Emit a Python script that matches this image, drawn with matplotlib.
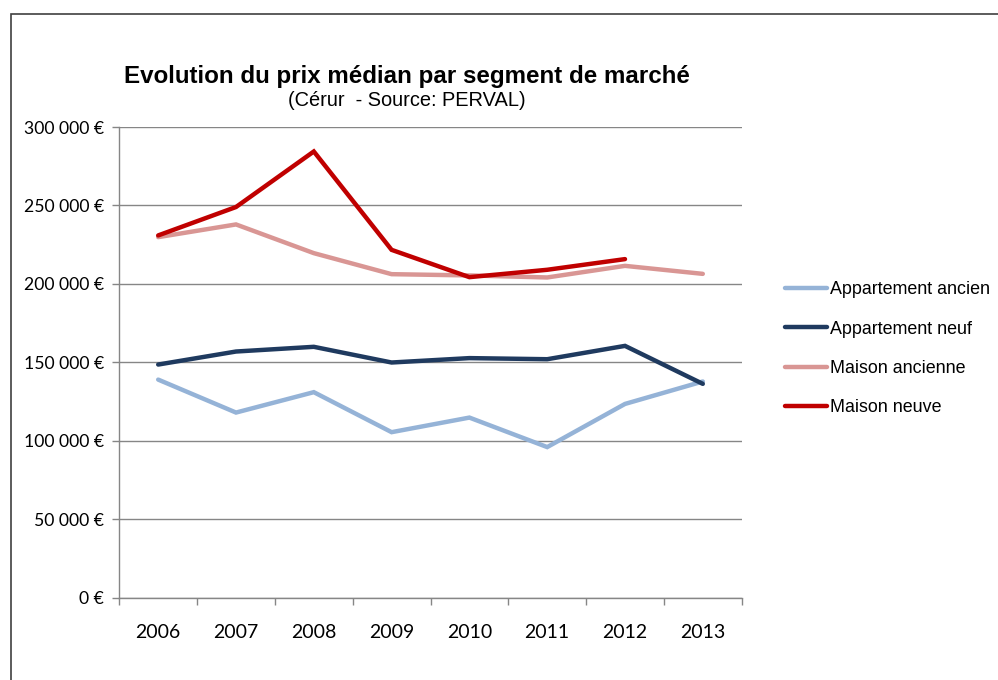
import matplotlib
matplotlib.use("Agg")
import matplotlib.pyplot as plt
from matplotlib.patches import Rectangle
from matplotlib.ticker import FuncFormatter, FixedLocator

years = ["2006", "2007", "2008", "2009", "2010", "2011", "2012", "2013"]
appart_ancien = [139000, 118000, 131000, 105500, 114800, 96000, 123500, 137800]
appart_neuf = [148600, 156900, 159900, 149900, 152700, 152000, 160500, 136300]
maison_ancienne = [229800, 237900, 219600, 206200, 205400, 204100, 211500, 206400]
maison_neuve = [230900, 249000, 284400, 221700, 204300, 209000, 215800, None]

series = [
    ("Appartement ancien", appart_ancien, "#95B3D7"),
    ("Appartement neuf", appart_neuf, "#1F3A5F"),
    ("Maison ancienne", maison_ancienne, "#D99694"),
    ("Maison neuve", maison_neuve, "#C00000"),
]

W, H = 998, 680
fig = plt.figure(figsize=(W / 100, H / 100), dpi=100)

# outer border
fig.patches.append(Rectangle((11 / W, -0.1), 1.2, 1 - 14 / H + 0.1,
                             transform=fig.transFigure, fill=False,
                             edgecolor="#404040", linewidth=1.2))

ax = fig.add_axes([119.3 / W, 1 - 597.7 / H, (741.7 - 119.3) / W, (597.7 - 127) / H])

x = list(range(len(years)))
for name, vals, col in series:
    xs = [i for i, v in zip(x, vals) if v is not None]
    ys = [v for v in vals if v is not None]
    ax.plot(xs, ys, color=col, linewidth=3.2, label=name, solid_capstyle="round",
            solid_joinstyle="miter")

ax.set_xlim(-0.5, len(years) - 0.5)
ax.set_ylim(0, 300000)
ax.set_yticks(range(0, 300001, 50000))
ax.yaxis.set_major_formatter(FuncFormatter(
    lambda v, p: ("{:,}".format(int(v)).replace(",", " ") + " €")))
ax.grid(axis="y", color="#868686", linewidth=1.0)
ax.set_axisbelow(True)

ax.set_xticks(x)
ax.set_xticklabels(years)
ax.xaxis.set_minor_locator(FixedLocator([i - 0.5 for i in range(len(years) + 1)]))
ax.tick_params(axis="x", which="major", length=0, pad=19, labelsize=14)
ax.tick_params(axis="x", which="minor", length=5, color="#868686", width=1)
ax.tick_params(axis="y", length=5, color="#868686", width=1, labelsize=12.7, pad=6)
for lab in ax.get_xticklabels() + ax.get_yticklabels():
    lab.set_fontfamily("Lato")

for s in ["top", "right"]:
    ax.spines[s].set_visible(False)
for s in ["left", "bottom"]:
    ax.spines[s].set_color("#868686")
    ax.spines[s].set_linewidth(1)

fig.text(407 / W, 1 - 76 / H, "Evolution du prix médian par segment de marché",
         ha="center", va="center", fontsize=17.4, fontweight="bold",
         family="Liberation Sans")
fig.text(407 / W, 1 - 101 / H, "(Cérur  - Source: PERVAL)",
         ha="center", va="center", fontsize=14.4, family="Liberation Sans")

leg = ax.legend(loc="upper left", bbox_to_anchor=(778 / W, 1 - 274 / H),
                bbox_transform=fig.transFigure, frameon=False,
                prop={"family": "Liberation Sans", "size": 12.9},
                handlelength=2.35, handletextpad=0.15, labelspacing=1.25,
                borderaxespad=0)

fig.savefig("out.png", dpi=100)
